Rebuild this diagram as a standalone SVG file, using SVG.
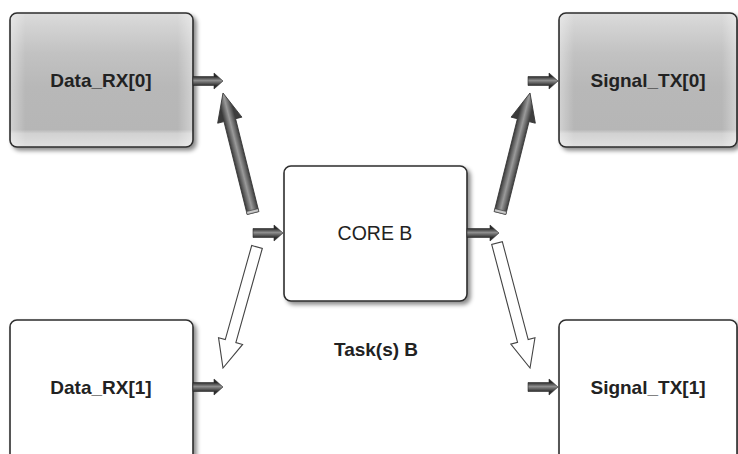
<svg xmlns="http://www.w3.org/2000/svg" width="738" height="454" viewBox="0 0 738 454">
  <style>
    .lbl { font-family: "Liberation Sans", Arial, sans-serif; font-size: 19px; font-weight: bold; fill: #222; text-anchor: middle; }
    .reg { font-weight: normal; font-size: 19.5px; }
    .gray { fill: url(#grayFill); stroke: #2e2e2e; stroke-width: 1.6; filter: url(#shadow); }
    .white { fill: #ffffff; stroke: #2e2e2e; stroke-width: 1.6; filter: url(#shadow); }
    .gloss { fill: url(#sideGloss); stroke: none; }
    .hshort { fill: url(#tubeH); stroke: #2a2a2a; stroke-width: 0.6; }
    .dark { fill: url(#tubeD); stroke: #333; stroke-width: 0.8; }
    .cap { fill: #c8c8c8; stroke: #444; stroke-width: 0.6; }
    .hollow { fill: #ffffff; stroke: #444; stroke-width: 1.1; }
  </style>
  <defs>
    <filter id="shadow" x="-10%" y="-10%" width="125%" height="130%">
      <feDropShadow dx="3" dy="3" stdDeviation="2.2" flood-color="#000" flood-opacity="0.45"/>
    </filter>
    <linearGradient id="grayFill" x1="0" y1="0" x2="0" y2="1">
      <stop offset="0" stop-color="#dcdcdc"/>
      <stop offset="0.08" stop-color="#d4d4d4"/>
      <stop offset="0.3" stop-color="#c2c2c2"/>
      <stop offset="0.55" stop-color="#b8b8b8"/>
      <stop offset="0.87" stop-color="#b6b6b6"/>
      <stop offset="0.9" stop-color="#d2d2d2"/>
      <stop offset="1" stop-color="#e0e0e0"/>
    </linearGradient>
    <linearGradient id="sideGloss" x1="0" y1="0" x2="1" y2="0">
      <stop offset="0" stop-color="#ffffff" stop-opacity="0.35"/>
      <stop offset="0.08" stop-color="#ffffff" stop-opacity="0"/>
      <stop offset="0.92" stop-color="#ffffff" stop-opacity="0"/>
      <stop offset="1" stop-color="#ffffff" stop-opacity="0.35"/>
    </linearGradient>
    <linearGradient id="tubeH" gradientUnits="userSpaceOnUse" x1="0" y1="-4.5" x2="0" y2="4.5">
      <stop offset="0" stop-color="#2a2a2a"/>
      <stop offset="0.45" stop-color="#8f8f8f"/>
      <stop offset="1" stop-color="#2e2e2e"/>
    </linearGradient>
    <linearGradient id="tubeD" gradientUnits="userSpaceOnUse" x1="0" y1="-6" x2="0" y2="6">
      <stop offset="0" stop-color="#3a3a3a"/>
      <stop offset="0.5" stop-color="#9a9a9a"/>
      <stop offset="1" stop-color="#3e3e3e"/>
    </linearGradient>
  </defs>

  <g id="node-data-rx0">
    <rect class="gray" x="10" y="13" width="183" height="134" rx="7"/>
    <rect class="gloss" x="11" y="14" width="181" height="132" rx="6"/>
    <text class="lbl" x="101" y="87">Data_RX[0]</text>
  </g>
  <g id="node-signal-tx0">
    <rect class="gray" x="559" y="13" width="178" height="134" rx="7"/>
    <rect class="gloss" x="560" y="14" width="176" height="132" rx="6"/>
    <text class="lbl" x="648" y="87">Signal_TX[0]</text>
  </g>
  <g id="node-core-b">
    <rect class="white" x="284" y="166" width="183" height="135" rx="7"/>
    <text class="lbl reg" x="375" y="240">CORE B</text>
  </g>
  <g id="node-task-b">
    <text class="lbl" x="376" y="356">Task(s) B</text>
  </g>
  <g id="node-data-rx1">
    <rect class="white" x="10" y="320" width="183" height="145" rx="7"/>
    <text class="lbl" x="101" y="394">Data_RX[1]</text>
  </g>
  <g id="node-signal-tx1">
    <rect class="white" x="559" y="320" width="178" height="145" rx="7"/>
    <text class="lbl" x="648" y="394">Signal_TX[1]</text>
  </g>

  <g id="connectors">
    <!-- short horizontal arrows -->
    <path class="hshort" transform="translate(193,81)" d="M0,-4.5 L21,-4.5 L21,-8 L30,0 L21,8 L21,4.5 L0,4.5 Z"/>
    <path class="hshort" transform="translate(253,233)" d="M0,-4.5 L21,-4.5 L21,-8 L30,0 L21,8 L21,4.5 L0,4.5 Z"/>
    <path class="hshort" transform="translate(467,233)" d="M0,-4.5 L23,-4.5 L23,-8 L32,0 L23,8 L23,4.5 L0,4.5 Z"/>
    <path class="hshort" transform="translate(528,81)" d="M0,-4.5 L21,-4.5 L21,-8 L30,0 L21,8 L21,4.5 L0,4.5 Z"/>
    <path class="hshort" transform="translate(193,387)" d="M0,-4.5 L21,-4.5 L21,-8 L30,0 L21,8 L21,4.5 L0,4.5 Z"/>
    <path class="hshort" transform="translate(528,387)" d="M0,-4.5 L21,-4.5 L21,-8 L30,0 L21,8 L21,4.5 L0,4.5 Z"/>
    <!-- diagonal dark arrows -->
    <g transform="translate(253,213) rotate(-104.04)">
      <path class="dark" d="M0,-6 L95.7,-6 L95.7,-12.5 L123.7,0 L95.7,12.5 L95.7,6 L0,6 Z"/>
      <path class="cap" d="M0,-6 L3,-6 L3,6 L0,6 Z"/>
    </g>
    <g transform="translate(500,213) rotate(-75.96)">
      <path class="dark" d="M0,-6 L95.7,-6 L95.7,-12.5 L123.7,0 L95.7,12.5 L95.7,6 L0,6 Z"/>
      <path class="cap" d="M0,-6 L3,-6 L3,6 L0,6 Z"/>
    </g>
    <!-- diagonal hollow arrows -->
    <path class="hollow" transform="translate(257,247) rotate(105.7)" d="M0,-5.5 L97.7,-5.5 L97.7,-12.5 L125.7,0 L97.7,12.5 L97.7,5.5 L0,5.5 Z"/>
    <path class="hollow" transform="translate(497,243) rotate(75.2)" d="M0,-5.5 L101.3,-5.5 L101.3,-12.5 L129.3,0 L101.3,12.5 L101.3,5.5 L0,5.5 Z"/>
  </g>
</svg>
